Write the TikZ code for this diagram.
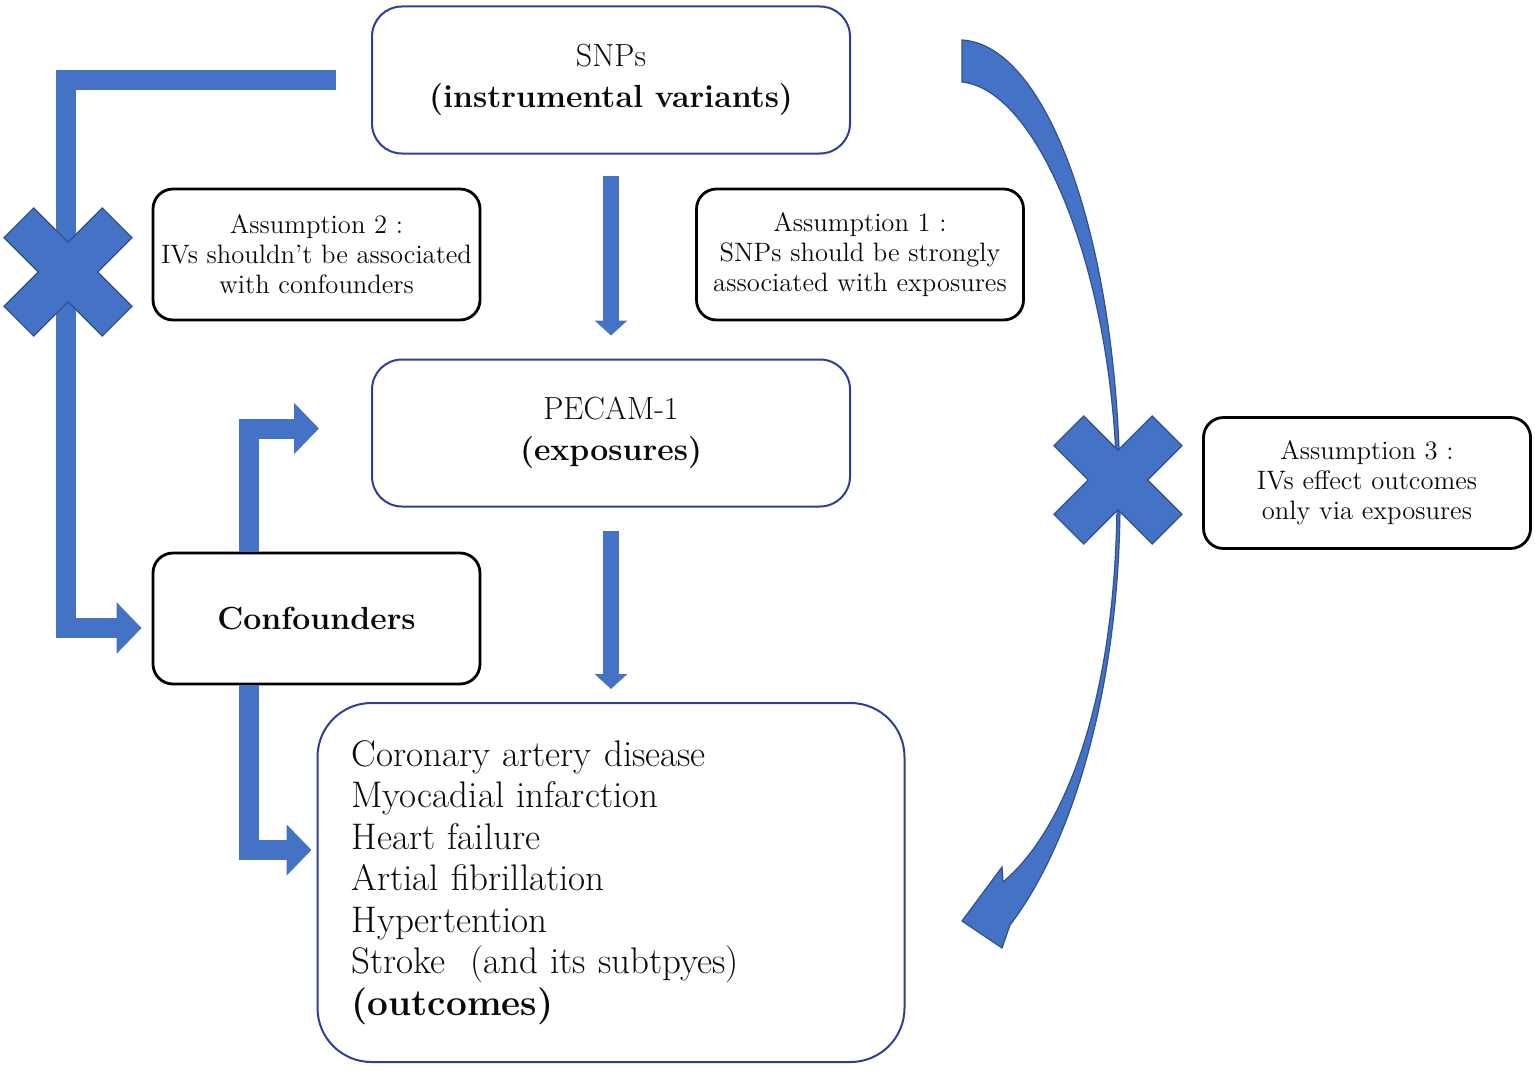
\documentclass[tikz,border=0pt]{standalone}
\usepackage{fontspec}
\usetikzlibrary{arrows.meta}
\definecolor{blk}{RGB}{68,114,196}
\definecolor{blkline}{RGB}{47,82,143}
\definecolor{boxline}{RGB}{47,62,150}
\definecolor{txt}{RGB}{10,10,10}
\begin{document}
\begin{tikzpicture}[x=0.5pt,y=-0.5pt,
  bluebox/.style={draw=boxline,line width=1pt,rounded corners=15pt,align=center,inner sep=0pt,minimum width=239pt,minimum height=73.5pt,text=txt,font=\fontsize{16}{20.5}\selectfont},
  asmbox/.style={draw=black,line width=1.4pt,rounded corners=10pt,align=center,inner sep=0pt,minimum width=163.5pt,minimum height=65.5pt,text=txt,font=\fontsize{13.3}{15}\selectfont},
  vblk/.style={draw=blk,line width=8pt,-{Triangle[width=16pt,length=7.5pt]}},
  eblk/.style={draw=blk,line width=10pt,line join=miter,-{Triangle[width=25pt,length=12.5pt]}}]
\useasboundingbox (0,0) rectangle (1535,1070);
\node[bluebox] (snp) at (611,80) {SNPs\\\textbf{(instrumental variants)}};
\node[bluebox] (pecam) at (611,433) {PECAM-1\\\textbf{(exposures)}};
\node[draw=boxline,line width=1pt,rounded corners=27pt,align=left,text width=259.5pt,inner xsep=17pt,inner ysep=0pt,minimum height=179.5pt,text=txt,font=\fontsize{18.5}{20.75}\selectfont] (outc) at (611,882.5) {Coronary artery disease\\Myocadial infarction\\Heart failure\\Artial fibrillation\\Hypertention\\Stroke\ \ (and its subtpyes)\\\textbf{(outcomes)}};
\node[asmbox,font=\fontsize{16}{20}\selectfont\bfseries] (conf) at (316.5,618.5) {Confounders};
\node[asmbox] (asmtwo) at (316.5,254.5) {Assumption 2 :\\IVs shouldn't be associated\\with confounders};
\node[asmbox] (asmone) at (860,254.5) {Assumption 1 :\\SNPs should be strongly\\associated with exposures};
\node[asmbox] (asmthree) at (1367,483) {Assumption 3 :\\IVs effect outcomes\\only via exposures};
% straight arrows
\draw[vblk,shorten <=10.5pt,shorten >=11.5pt] (snp.south) -- (pecam.north);
\draw[vblk,shorten <=11.5pt,shorten >=6.5pt] (pecam.south) -- (outc.north);
% elbow arrows
\draw[eblk,shorten <=17.5pt,shorten >=5pt] (snp.west) -- ++(-305,0) |- ([yshift=-4.75pt]conf.west);
\draw[eblk,shorten >=26pt] ([xshift=-34pt]conf.north) |- ([yshift=2.25pt]pecam.west);
\draw[eblk,shorten >=2.5pt] ([xshift=-34pt]conf.south) |- ([yshift=16.25pt]outc.west);
% curved arrow
\filldraw[fill=blk,draw=blkline,line width=0.6pt] (962,40) .. controls (1050,45) and (1120,250) .. (1120,500)
  .. controls (1120,680) and (1075,840) .. (1010,925) -- (1002,948) -- (962,921) -- (1002,867) -- (1003,882)
  .. controls (1065,830) and (1116,700) .. (1117,500) .. controls (1117,280) and (1040,90) .. (962,82) -- cycle;
% crosses
\foreach \cx/\cy in {68/272,1118/480}
  \filldraw[fill=blk,draw=blkline,line width=0.6pt,shift={(\cx,\cy)},rotate=45] (21,21) -- (69.5,21) -- (69.5,-21) -- (21,-21) -- (21,-69.5) -- (-21,-69.5) -- (-21,-21) -- (-69.5,-21) -- (-69.5,21) -- (-21,21) -- (-21,69.5) -- (21,69.5) -- cycle;
\end{tikzpicture}
\end{document}
